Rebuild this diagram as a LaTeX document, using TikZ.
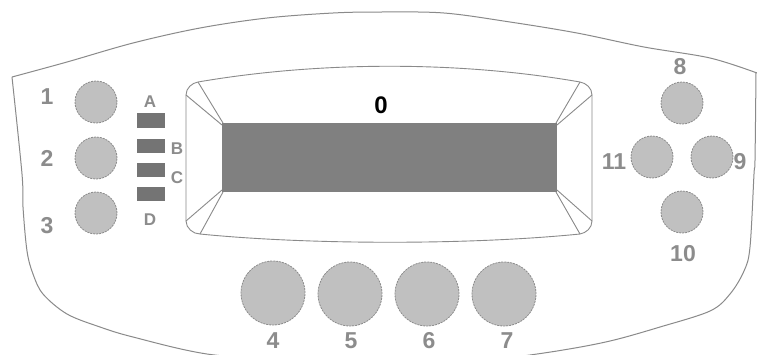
\documentclass[tikz,border=0pt]{standalone}
\usepackage{fontspec}
\setmainfont{Liberation Sans}
\definecolor{lineg}{HTML}{8A8A8A}
\definecolor{btnfill}{HTML}{C0C0C0}
\definecolor{btnedge}{HTML}{8C8C8C}
\definecolor{lcdgray}{HTML}{808080}
\definecolor{bargray}{HTML}{747474}
\definecolor{labelg}{HTML}{8C8C8C}
\begin{document}
\begin{tikzpicture}[x=1pt,y=-1pt,
  outline/.style={draw=lineg, line width=1pt},
  frameline/.style={draw=lineg, line width=0.9pt},
  btn/.style={circle, fill=btnfill, draw=btnedge, dash pattern=on 2pt off 1pt, line width=0.8pt, inner sep=0pt, minimum size=42pt},
  bigbtn/.style={btn, minimum size=64pt},
  lbl/.style={text=labelg, font=\fontsize{23}{23}\selectfont\bfseries, inner sep=0pt},
  letter/.style={text=labelg, font=\fontsize{17}{17}\selectfont\bfseries, inner sep=0pt},
  bar/.style={fill=bargray, draw=none},
]
\useasboundingbox (0,0) rectangle (757,354);
\fill[white] (0,0) rectangle (757,354);
\begin{scope}
\clip (0,0) rectangle (757,354);
% outer housing
\draw[outline] plot[smooth, tension=0.55] coordinates {(300,362) (207,354) (133,337) (100,327) (67,314) (43,294) (33,274) (27,251) (23,207) (22,174) (12,77)};
\draw[outline] plot[smooth, tension=0.55] coordinates {(12,77) (67,62) (133,43) (200,28) (267,18) (333,13) (380,12) (444,13) (510,22) (577,33) (644,47) (710,58) (757,73)};
\draw[outline] plot[smooth, tension=0.55] coordinates {(756,72) (755,160) (754,174) (750,247) (744,271) (730,294) (710,311) (660,327) (610,341) (557,351) (480,362)};
\end{scope}
% display frame
\draw[frameline] (186,221) -- (186,95) .. controls (186,88) and (192,83) .. (198,82)
  .. controls (320,61) and (460,61) .. (580,82)
  .. controls (586,83) and (592,88) .. (592,95) -- (592,221)
  .. controls (592,228) and (586,233) .. (580,234)
  .. controls (470,245) and (310,245) .. (200,234)
  .. controls (193,234) and (186,228) .. (186,221) -- cycle;
\fill[lcdgray] (222,123) rectangle (557,192);
\draw[frameline] (186,95) -- (222,125) (198,82) -- (223,123);
\draw[frameline] (592,95) -- (557,125) (580,82) -- (556,123);
\draw[frameline] (592,221) -- (557,190) (580,234) -- (556,192);
\draw[frameline] (186,221) -- (222,190) (200,234) -- (223,192);
\node[font=\fontsize{24}{24}\selectfont\bfseries, inner sep=0pt] (zero) at (381,105) {0};
% indicator bars
\fill[bar] (137,113) rectangle (165,128);
\fill[bar] (137,139) rectangle (165,153);
\fill[bar] (137,163) rectangle (165,177);
\fill[bar] (137,187) rectangle (165,201);
\node[letter] (la) at (150,102) {A};
\node[letter] (lb) at (177,149) {B};
\node[letter] (lc) at (177,178) {C};
\node[letter] (ld) at (150,220) {D};
% left buttons
\node[btn] (b1) at (96,102) {};
\node[btn] (b2) at (96,158) {};
\node[btn] (b3) at (96,213) {};
\node[lbl] (t1) at (47,97) {1};
\node[lbl] (t2) at (47,158) {2};
\node[lbl] (t3) at (47,226) {3};
% right buttons
\node[btn] (b8) at (682,103) {};
\node[btn] (b11) at (652,157) {};
\node[btn] (b9) at (712,157) {};
\node[btn] (b10) at (682,212) {};
\node[lbl] (t8) at (680,67) {8};
\node[lbl] (t11) at (614,162) {11};
\node[lbl] (t9) at (740,162) {9};
\node[lbl] (t10) at (683,254) {10};
% bottom buttons
\node[bigbtn] (b4) at (273,293) {};
\node[bigbtn] (b5) at (350,294) {};
\node[bigbtn] (b6) at (427,294) {};
\node[bigbtn] (b7) at (504,294) {};
\node[lbl] (t4) at (273,341) {4};
\node[lbl] (t5) at (351,341) {5};
\node[lbl] (t6) at (429,341) {6};
\node[lbl] (t7) at (507,341) {7};
\end{tikzpicture}
\end{document}
